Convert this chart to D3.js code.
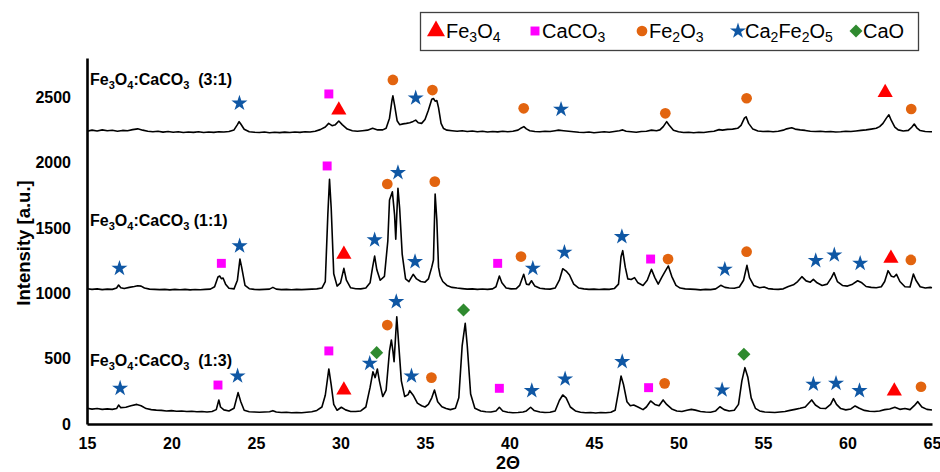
<!DOCTYPE html>
<html>
<head>
<meta charset="utf-8">
<script src="https://cdn.jsdelivr.net/npm/d3@7"></script>
<style>
  html, body { margin: 0; padding: 0; background: #fff; }
  svg { display: block; font-family: "Liberation Sans", Arial, sans-serif; }
</style>
</head>
<body>
<svg id="chart" width="940" height="472"></svg>
<script>
const WIDTH = 940;
const HEIGHT = 472;
const MARGIN = { top: 58, right: 8, bottom: 48, left: 87 };

// XRD patterns: [2θ, intensity]
const pattern31 = [
  [15,2240],[15.3,2248],[15.6,2242],[15.9,2250],[16.2,2244],[16.5,2247],[16.8,2240],[17.1,2246],[17.4,2243],[17.7,2252],
  [18.0,2258],[18.3,2248],[18.6,2240],[18.9,2236],[19.2,2240],[19.5,2233],[19.8,2238],[20.1,2232],[20.4,2236],[20.7,2230],
  [21.0,2234],[21.3,2231],[21.6,2236],[21.9,2230],[22.2,2234],[22.5,2231],[22.8,2236],[23.1,2234],[23.4,2238],[23.7,2250],
  [23.9,2290],[24.0,2313],[24.1,2295],[24.3,2255],[24.6,2236],[24.9,2232],[25.2,2230],[25.5,2234],[25.8,2228],[26.1,2232],
  [26.4,2229],[26.7,2233],[27.0,2230],[27.3,2234],[27.6,2231],[27.9,2236],[28.2,2234],[28.5,2240],[28.8,2252],[29.1,2272],
  [29.3,2300],[29.5,2282],[29.7,2290],[29.9,2318],[30.1,2290],[30.4,2256],[30.7,2244],[31.0,2240],[31.3,2244],[31.6,2248],
  [31.9,2262],[32.2,2250],[32.5,2250],[32.7,2262],[32.9,2340],[33.05,2480],[33.1,2510],[33.2,2440],[33.35,2320],[33.5,2290],
  [33.7,2296],[33.9,2300],[34.1,2305],[34.3,2315],[34.45,2325],[34.6,2305],[34.8,2300],[35.0,2330],[35.2,2400],[35.4,2485],
  [35.5,2490],[35.6,2470],[35.7,2475],[35.8,2420],[35.95,2300],[36.1,2260],[36.3,2248],[36.6,2244],[36.9,2240],[37.2,2244],
  [37.5,2238],[37.8,2242],[38.1,2236],[38.4,2240],[38.7,2234],[39.0,2238],[39.3,2235],[39.6,2240],[39.9,2236],[40.2,2240],
  [40.5,2248],[40.7,2265],[40.85,2275],[41.0,2258],[41.2,2244],[41.5,2238],[41.8,2236],[42.1,2240],[42.4,2238],[42.7,2244],
  [42.9,2248],[43.2,2244],[43.5,2240],[43.8,2236],[44.1,2232],[44.4,2230],[44.7,2234],[45.0,2228],[45.3,2232],[45.6,2236],
  [45.9,2232],[46.2,2238],[46.5,2244],[46.7,2250],[46.9,2240],[47.2,2236],[47.5,2232],[47.8,2238],[48.1,2240],[48.4,2248],
  [48.7,2244],[48.9,2250],[49.1,2275],[49.3,2313],[49.45,2285],[49.7,2248],[50.0,2236],[50.3,2230],[50.6,2232],[50.9,2228],
  [51.2,2232],[51.5,2230],[51.8,2236],[52.1,2240],[52.4,2252],[52.6,2248],[52.9,2254],[53.2,2256],[53.5,2262],[53.7,2285],
  [53.9,2340],[54.0,2350],[54.15,2300],[54.4,2256],[54.7,2242],[55.0,2238],[55.3,2240],[55.6,2236],[55.9,2240],[56.2,2248],
  [56.4,2258],[56.7,2266],[56.9,2256],[57.2,2250],[57.5,2246],[57.8,2240],[58.1,2238],[58.4,2240],[58.7,2236],[59.0,2238],
  [59.3,2234],[59.6,2236],[59.9,2240],[60.2,2238],[60.5,2242],[60.8,2246],[61.1,2250],[61.4,2256],[61.7,2262],[61.9,2275],
  [62.1,2300],[62.3,2340],[62.45,2365],[62.6,2320],[62.8,2272],[63.0,2250],[63.3,2242],[63.6,2246],[63.8,2270],[63.95,2295],
  [64.1,2266],[64.3,2245],[64.6,2238],[64.9,2236],[65.0,2236]
];

const pattern11 = [
  [15,1035],[15.3,1030],[15.6,1034],[15.9,1028],[16.2,1032],[16.5,1030],[16.75,1040],[16.87,1063],[17.0,1042],[17.2,1036],
  [17.5,1045],[17.8,1052],[18.0,1058],[18.2,1055],[18.4,1040],[18.7,1032],[19.0,1030],[19.3,1028],[19.6,1030],[19.9,1026],
  [20.2,1030],[20.5,1027],[20.8,1030],[21.1,1026],[21.4,1029],[21.7,1027],[22.0,1030],[22.3,1032],[22.55,1050],[22.75,1125],
  [22.85,1132],[22.95,1112],[23.05,1117],[23.2,1070],[23.4,1038],[23.7,1034],[23.9,1100],[24.05,1262],[24.15,1200],[24.35,1060],
  [24.6,1035],[24.9,1030],[25.2,1028],[25.5,1030],[25.8,1032],[26.0,1045],[26.2,1032],[26.5,1028],[26.8,1030],[27.1,1027],
  [27.4,1030],[27.7,1028],[28.0,1030],[28.3,1032],[28.6,1034],[28.9,1040],[29.1,1090],[29.25,1600],[29.35,1872],[29.45,1650],
  [29.6,1150],[29.8,1055],[30.0,1080],[30.2,1191],[30.35,1100],[30.6,1042],[30.9,1035],[31.2,1034],[31.5,1040],[31.75,1080],
  [31.9,1200],[32.02,1285],[32.15,1180],[32.35,1100],[32.6,1130],[32.8,1400],[32.9,1714],[33.07,1777],[33.2,1600],[33.27,1413],
  [33.33,1600],[33.4,1803],[33.5,1650],[33.65,1300],[33.85,1110],[34.05,1089],[34.3,1145],[34.5,1110],[34.75,1090],[35.0,1085],
  [35.2,1110],[35.4,1200],[35.5,1255],[35.6,1760],[35.7,1560],[35.8,1200],[35.9,1132],[36.05,1090],[36.3,1060],[36.6,1045],
  [36.9,1040],[37.2,1036],[37.5,1032],[37.8,1034],[38.1,1030],[38.4,1033],[38.7,1030],[39.0,1034],[39.2,1050],[39.4,1132],
  [39.55,1080],[39.8,1040],[40.1,1034],[40.4,1036],[40.6,1060],[40.84,1145],[41.0,1070],[41.15,1065],[41.3,1096],[41.5,1055],
  [41.8,1038],[42.1,1034],[42.4,1032],[42.7,1040],[42.95,1100],[43.15,1188],[43.35,1170],[43.55,1140],[43.8,1070],[44.1,1040],
  [44.4,1034],[44.7,1030],[45.0,1032],[45.3,1029],[45.6,1032],[45.9,1030],[46.2,1036],[46.45,1070],[46.6,1280],[46.7,1326],
  [46.85,1200],[47.0,1110],[47.2,1105],[47.4,1120],[47.6,1080],[47.9,1060],[48.15,1100],[48.4,1183],[48.6,1120],[48.8,1070],
  [49.0,1120],[49.2,1165],[49.4,1209],[49.6,1130],[49.85,1060],[50.1,1040],[50.4,1034],[50.7,1032],[51.0,1030],[51.3,1026],
  [51.6,1030],[51.9,1028],[52.2,1034],[52.5,1061],[52.75,1045],[53.0,1040],[53.3,1038],[53.6,1048],[53.85,1100],[54.05,1214],
  [54.2,1120],[54.45,1060],[54.8,1042],[55.07,1048],[55.3,1036],[55.6,1032],[55.9,1030],[56.2,1034],[56.5,1052],[56.8,1065],
  [57.05,1090],[57.3,1127],[57.55,1095],[57.8,1085],[57.98,1107],[58.2,1080],[58.5,1060],[58.8,1070],[59.05,1120],[59.2,1158],
  [59.4,1090],[59.7,1060],[60.0,1055],[60.3,1070],[60.6,1096],[60.85,1080],[61.1,1052],[61.4,1045],[61.7,1042],[62.0,1050],
  [62.2,1090],[62.4,1173],[62.6,1130],[62.75,1125],[62.9,1145],[63.1,1090],[63.4,1050],[63.7,1048],[63.9,1147],[64.05,1100],
  [64.3,1050],[64.6,1040],[64.9,1045],[65,1042]
];

const pattern13 = [
  [15,120],[15.3,114],[15.6,118],[15.9,112],[16.2,116],[16.5,112],[16.75,118],[16.87,145],[17.0,125],[17.3,128],
  [17.6,140],[17.95,150],[18.2,140],[18.5,118],[18.8,110],[19.1,106],[19.4,104],[19.7,100],[20.0,102],[20.3,98],
  [20.6,100],[20.9,96],[21.2,98],[21.5,94],[21.8,96],[22.1,92],[22.4,96],[22.65,110],[22.8,184],[22.9,130],
  [23.1,108],[23.4,100],[23.7,120],[23.94,240],[24.1,170],[24.3,105],[24.6,94],[24.9,92],[25.2,90],[25.5,92],
  [25.8,94],[26.0,102],[26.2,92],[26.5,88],[26.8,90],[27.1,86],[27.4,88],[27.7,86],[28.0,90],[28.3,94],
  [28.6,104],[28.9,130],[29.1,220],[29.31,421],[29.45,300],[29.6,150],[29.8,105],[30.05,128],[30.3,108],[30.6,96],
  [30.9,96],[31.2,100],[31.5,130],[31.75,280],[31.92,400],[32.05,355],[32.18,421],[32.3,330],[32.5,210],[32.7,260],
  [32.9,560],[33.01,643],[33.1,560],[33.17,477],[33.25,650],[33.33,821],[33.45,600],[33.6,330],[33.8,210],[34.0,225],
  [34.1,255],[34.3,220],[34.55,160],[34.8,140],[35.0,130],[35.2,150],[35.4,200],[35.56,260],[35.75,170],[36.0,132],
  [36.25,118],[36.5,110],[36.8,120],[37.0,200],[37.2,600],[37.38,770],[37.5,600],[37.7,230],[37.95,120],[38.3,100],
  [38.6,94],[38.9,92],[39.2,100],[39.4,128],[39.6,100],[39.9,90],[40.2,86],[40.5,88],[40.8,92],[41.0,100],
  [41.25,128],[41.45,104],[41.8,92],[42.1,88],[42.4,90],[42.7,100],[42.95,180],[43.15,222],[43.35,200],[43.6,130],
  [43.9,100],[44.2,90],[44.5,86],[44.8,88],[45.1,84],[45.4,88],[45.7,86],[46.0,90],[46.25,105],[46.45,250],
  [46.6,367],[46.75,300],[46.95,170],[47.15,140],[47.35,145],[47.6,130],[47.9,110],[48.1,130],[48.35,176],[48.6,150],
  [48.85,140],[49.09,184],[49.3,150],[49.6,115],[49.9,100],[50.2,96],[50.5,105],[50.76,112],[51.0,106],[51.3,96],
  [51.6,92],[51.9,90],[52.2,100],[52.45,132],[52.7,110],[53.0,100],[53.3,105],[53.55,150],[53.75,330],[53.93,431],
  [54.1,360],[54.3,200],[54.55,120],[54.8,100],[55.1,92],[55.4,90],[55.7,88],[56.0,92],[56.3,96],[56.6,104],
  [56.9,112],[57.2,120],[57.5,130],[57.88,184],[58.1,145],[58.4,120],[58.7,118],[59.0,150],[59.17,194],[59.35,150],
  [59.6,118],[59.9,108],[60.2,115],[60.45,138],[60.7,120],[61.0,104],[61.3,98],[61.6,96],[61.9,100],[62.2,110],
  [62.5,115],[62.8,128],[63.1,112],[63.4,118],[63.7,110],[63.95,140],[64.16,171],[64.4,130],[64.7,112],[65,107]
];

// phase markers: [phase, 2θ, intensity where the symbol sits]
const marks31 = [
  ['Ca2Fe2O5',24.02,2454],['CaCO3',29.31,2525],['Fe3O4',29.9,2402],['Fe2O3',33.1,2632],['Ca2Fe2O5',34.45,2494],
  ['Fe2O3',35.44,2555],['Fe2O3',40.84,2415],['Ca2Fe2O5',43.05,2407],['Fe2O3',49.22,2377],['Fe2O3',54.03,2492],
  ['Fe3O4',62.23,2535],['Fe2O3',63.77,2410]
];
const marks11 = [
  ['Ca2Fe2O5',16.92,1191],['CaCO3',22.95,1229],['Ca2Fe2O5',24.03,1362],['CaCO3',29.21,1974],['Fe3O4',30.2,1298],
  ['Ca2Fe2O5',32.02,1408],['Fe2O3',32.77,1836],['Ca2Fe2O5',33.4,1923],['Ca2Fe2O5',34.41,1242],['Fe2O3',35.58,1854],
  ['CaCO3',39.3,1229],['Fe2O3',40.68,1281],['Ca2Fe2O5',41.38,1191],['Ca2Fe2O5',43.25,1313],['Ca2Fe2O5',46.65,1433],
  ['CaCO3',48.35,1262],['Fe2O3',49.38,1262],['Ca2Fe2O5',52.74,1183],['Fe2O3',54.03,1318],['Ca2Fe2O5',58.12,1250],
  ['Ca2Fe2O5',59.22,1293],['Ca2Fe2O5',60.75,1229],['Fe3O4',62.57,1268],['Fe2O3',63.75,1255]
];
const marks13 = [
  ['Ca2Fe2O5',16.96,273],['CaCO3',22.75,298],['Ca2Fe2O5',23.91,367],['CaCO3',29.31,559],['Fe3O4',30.2,260],
  ['Ca2Fe2O5',31.73,464],['CaO',32.14,546],['Fe2O3',32.77,757],['Ca2Fe2O5',33.3,936],['Ca2Fe2O5',34.2,367],
  ['Fe2O3',35.38,355],['CaO',37.28,872],['CaCO3',39.4,273],['Ca2Fe2O5',41.32,255],['Ca2Fe2O5',43.29,344],
  ['Ca2Fe2O5',46.67,477],['CaCO3',48.23,278],['Fe2O3',49.18,311],['Ca2Fe2O5',52.58,260],['CaO',53.87,533],
  ['Ca2Fe2O5',57.98,304],['Ca2Fe2O5',59.32,311],['Ca2Fe2O5',60.71,255],['Fe3O4',62.77,252],['Fe2O3',64.35,285]
];

const phases = ['Fe3O4', 'CaCO3', 'Fe2O3', 'Ca2Fe2O5', 'CaO'];
const sampleNames = ['(3:1)', '(1:1)', '(1:3)'];
const sampleLabelY = [2594, 1515, 444];

const xTicks = [15, 20, 25, 30, 35, 40, 45, 50, 55, 60, 65];
const yTicks = [0, 500, 1000, 1500, 2000, 2500];

// phase symbol styles
const phaseStyle = {
  Fe3O4:    { type: d3.symbolTriangle, size: 100, color: '#ff0000', rot: 0 },
  CaCO3:    { type: d3.symbolSquare,   size: 80,  color: '#ff00ff', rot: 0 },
  Fe2O3:    { type: d3.symbolCircle,   size: 90,  color: '#e2640f', rot: 0 },
  Ca2Fe2O5: { type: d3.symbolStar,     size: 80,  color: '#0f57a4', rot: 0 },
  CaO:      { type: d3.symbolSquare,   size: 85,  color: '#2f8a2f', rot: 45 }
};

const svg = d3.select('#chart');

const x = d3.scaleLinear().domain([15, 65]).range([MARGIN.left, WIDTH - MARGIN.right]);
const y = d3.scaleLinear().domain([0, 2800]).range([HEIGHT - MARGIN.bottom, MARGIN.top]);

const line = d3.line().x((d) => x(d[0])).y((d) => y(d[1]));

[pattern31, pattern11, pattern13].forEach((p) => {
  svg.append('path')
    .datum(p)
    .attr('d', line)
    .attr('fill', 'none')
    .attr('stroke', '#000')
    .attr('stroke-width', 1.6)
    .attr('stroke-linejoin', 'round');
});

// axes: no tick marks, just the lines + bold labels
const xAxis = svg.append('g')
  .attr('transform', `translate(0,${y(0)})`)
  .call(d3.axisBottom(x).tickValues(xTicks).tickSize(0).tickPadding(14));
const yAxis = svg.append('g')
  .attr('transform', `translate(${x(15)},0)`)
  .call(d3.axisLeft(y).tickValues(yTicks).tickFormat(d3.format('d')).tickSize(0).tickPadding(16));

[xAxis, yAxis].forEach((a) => {
  a.select('.domain').attr('stroke', '#000').attr('stroke-width', 2.6);
  a.selectAll('text')
    .attr('font-family', '"Liberation Sans", Arial, sans-serif')
    .attr('font-size', 16)
    .attr('font-weight', 'bold')
    .attr('fill', '#000');
});

svg.append('text')
  .attr('transform', `translate(30,${(y(0) + y(2800)) / 2 + 2}) rotate(-90)`)
  .attr('text-anchor', 'middle')
  .attr('font-size', 18.5)
  .attr('font-weight', 'bold')
  .text('Intensity [a.u.]');

svg.append('text')
  .attr('x', 508)
  .attr('y', 469)
  .attr('text-anchor', 'middle')
  .attr('font-size', 18)
  .attr('font-weight', 'bold')
  .text('2Θ');

// chemical formula with subscripts; parts = [[text, subscript], ...]
function formula(sel, parts, subSize) {
  let down = false;
  parts.forEach(([t, sub]) => {
    const main = sel.append('tspan').text(t);
    if (down) { main.attr('dy', -4); down = false; }
    if (sub) {
      sel.append('tspan').attr('font-size', subSize).attr('dy', 4).text(sub);
      down = true;
    }
  });
}

sampleNames.forEach((name, i) => {
  const t = svg.append('text')
    .attr('x', x(15) + 3)
    .attr('y', y(sampleLabelY[i]))
    .attr('font-size', 16)
    .attr('font-weight', 'bold')
    .style('white-space', 'pre');
  formula(t, [['Fe', '3'], ['O', '4'], [':CaCO', '3'], [(i === 1 ? ' ' : '  ') + name, null]], 11);
});

// markers
function drawMarks(list) {
  svg.append('g').selectAll('path')
    .data(list)
    .enter().append('path')
    .attr('transform', (d) => `translate(${x(d[1])},${y(d[2])}) rotate(${phaseStyle[d[0]].rot})`)
    .attr('d', (d) => d3.symbol(phaseStyle[d[0]].type, phaseStyle[d[0]].size)())
    .attr('fill', (d) => phaseStyle[d[0]].color);
}
drawMarks(marks31);
drawMarks(marks11);
drawMarks(marks13);

// legend
const legend = svg.append('g');
legend.append('rect')
  .attr('x', 420.5).attr('y', 12.5).attr('width', 498).attr('height', 38)
  .attr('fill', '#fff').attr('stroke', '#404040').attr('stroke-width', 1.3);

const legendLabels = {
  Fe3O4: [['Fe', '3'], ['O', '4']],
  CaCO3: [['CaCO', '3']],
  Fe2O3: [['Fe', '2'], ['O', '3']],
  Ca2Fe2O5: [['Ca', '2'], ['Fe', '2'], ['O', '5']],
  CaO: [['CaO', null]]
};
const legendX = [436, 535, 642, 738, 856];
phases.forEach((p, i) => {
  const st = phaseStyle[p];
  legend.append('path')
    .attr('transform', `translate(${legendX[i]},31) rotate(${st.rot})`)
    .attr('d', d3.symbol(st.type, p === 'Fe3O4' ? 140 : st.size)())
    .attr('fill', st.color);
  const t = legend.append('text')
    .attr('x', legendX[i] + (p === 'Fe3O4' ? 10 : 7))
    .attr('y', 38)
    .attr('font-size', 20);
  formula(t, legendLabels[p], 14);
});
</script>
</body>
</html>
